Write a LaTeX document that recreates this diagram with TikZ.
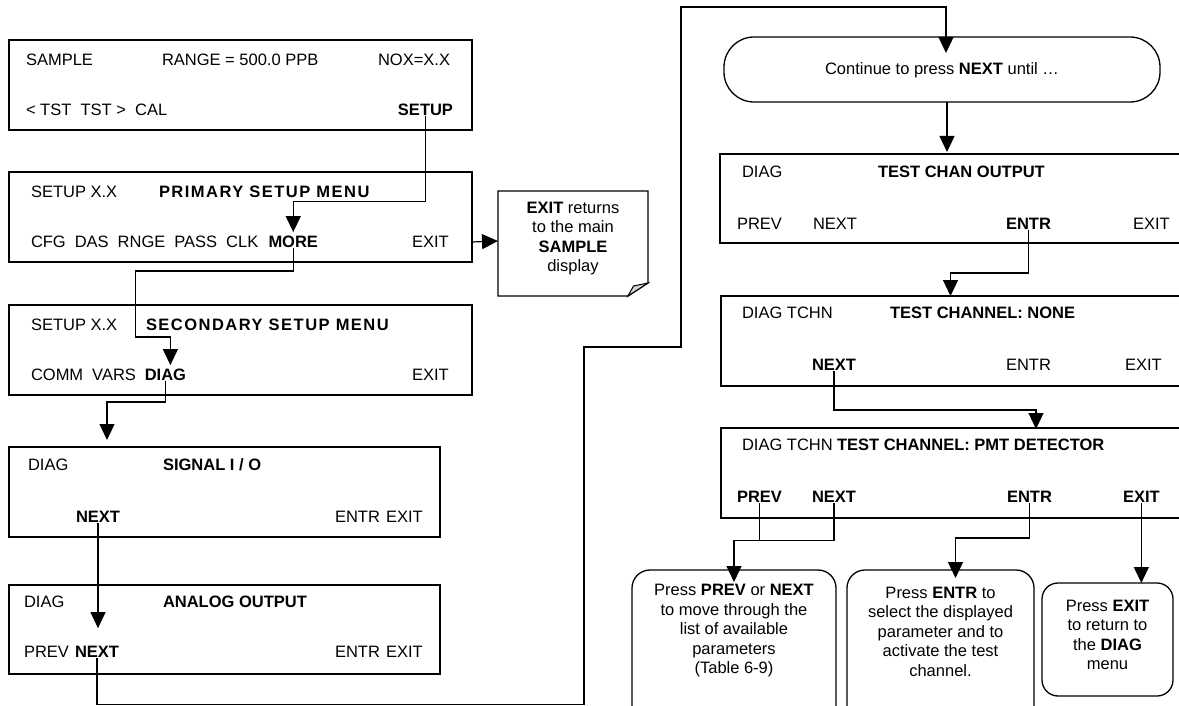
\documentclass[tikz,border=0pt]{standalone}
\usepackage{fontspec}
\setmainfont{Liberation Sans}
\newfontfamily\spacedfont[LetterSpace=9]{Liberation Sans}
\usetikzlibrary{arrows.meta}
\newcommand\dfont{\fontsize{16.5}{19.5}\selectfont}
\newcommand\wgap{\hspace{9pt}}
\begin{document}
\begin{tikzpicture}[x=1pt,y=-1pt,
  every node/.style={inner sep=0pt,outer sep=0pt},
  scr/.style={draw,line width=1.4pt,rectangle},
  pill/.style={draw,line width=1.3pt,rounded corners=30pt},
  rbox/.style={draw,line width=1.3pt,rounded corners=18pt},
  lab/.style={anchor=west,text height=11.8pt,text depth=0pt,font=\dfont},
  labb/.style={lab,font=\dfont\bfseries},
  labs/.style={lab,font=\dfont\spacedfont\bfseries},
  para/.style={align=center,font=\dfont},
  conn/.style={line width=1.2pt},
  arr/.style={conn,-{Triangle[width=15pt,length=16pt]}},
]
\useasboundingbox (0,0) rectangle (1179,706);
\clip (0,0) rectangle (1179,706);

% ---------- left column screens ----------
\node[scr,minimum width=463pt,minimum height=90pt] (b1) at (240.5,85) {};
\node[lab] (s1a) at (26,60) {SAMPLE};
\node[lab] (s1b) at (162,60) {RANGE = 500.0 PPB};
\node[lab,anchor=east] (s1c) at (450,60) {NOX=X.X};
\node[lab] (s1d) at (26,110) {< TST\ \ TST >\ \ CAL};
\node[labb,anchor=east] (setup) at (453,110) {SETUP};

\node[scr,minimum width=463pt,minimum height=90pt] (b2) at (240.5,217) {};
\node[lab] (s2a) at (31,192) {SETUP X.X};
\node[labs] (s2b) at (159,192) {PRIMARY SETUP MENU};
\node[lab] (s2c) at (31,242) {CFG\wgap DAS\wgap RNGE\wgap PASS\wgap CLK};
\node[labb,anchor=east] (more) at (318,242) {MORE};
\node[lab] (exit2) at (412,242) {EXIT};

\node[scr,minimum width=463pt,minimum height=90pt] (b3) at (240.5,350) {};
\node[lab] (s3a) at (31,325) {SETUP X.X};
\node[labs] (s3b) at (146,325) {SECONDARY SETUP MENU};
\node[lab] (s3c) at (31,375) {COMM\wgap VARS};
\node[labb,anchor=east] (diag3) at (186,375) {DIAG};
\node[lab] (exit3) at (412,375) {EXIT};

\node[scr,minimum width=431pt,minimum height=90pt] (b4) at (224.5,492) {};
\node[lab] (s4a) at (28,465) {DIAG};
\node[labb] (s4b) at (163,465) {SIGNAL I / O};
\node[labb] (next4) at (76,517) {NEXT};
\node[lab] (entr4) at (335,517) {ENTR};
\node[lab] (exit4) at (386,517) {EXIT};

\node[scr,minimum width=431pt,minimum height=89pt] (b5) at (224.5,629.5) {};
\node[lab] (s5a) at (24,602) {DIAG};
\node[labb] (s5b) at (163,602) {ANALOG OUTPUT};
\node[lab] (prev5) at (24,652) {PREV};
\node[labb] (next5) at (75,652) {NEXT};
\node[lab] (entr5) at (335,652) {ENTR};
\node[lab] (exit5) at (386,652) {EXIT};

% ---------- note ----------
\node[para] (note) at (573,238.5) {\textbf{EXIT} returns\\to the main\\\textbf{SAMPLE}\\display};
\coordinate (nA) at (498,191);
\coordinate (nB) at (648,191);
\coordinate (nC) at (648,283);
\coordinate (nD) at (628,296);
\coordinate (nE) at (498,296);
\coordinate (nF) at (633.5,286);
\draw[line width=1.3pt] (nA) -- (nB) -- (nC) -- (nD) -- (nE) -- cycle;
\filldraw[fill=gray!35,line width=1pt] (nC) -- (nD) -- (nF) -- cycle;
\coordinate (noteL) at (498,241);

% ---------- right column ----------
\node[pill,minimum width=436pt,minimum height=65pt] (cont) at (942,69.5) {};
\node[font=\dfont] (contt) at (942,70) {Continue to press \textbf{NEXT} until \dots};

\node[scr,minimum width=470pt,minimum height=89pt] (bA) at (955,198.5) {};
\node[lab] (sAa) at (742,172) {DIAG};
\node[labb] (sAb) at (878,172) {TEST CHAN OUTPUT};
\node[lab] (prevA) at (737,224) {PREV};
\node[lab] (nextA) at (813,224) {NEXT};
\node[labb] (entrA) at (1006,224) {ENTR};
\node[lab] (exitA) at (1133,224) {EXIT};

\node[scr,minimum width=469pt,minimum height=90pt] (bB) at (955.5,341) {};
\node[lab] (sBa) at (742,313) {DIAG TCHN};
\node[labb] (sBb) at (890,313) {TEST CHANNEL: NONE};
\node[labb] (nextB) at (812,365) {NEXT};
\node[lab] (entrB) at (1006,365) {ENTR};
\node[lab] (exitB) at (1125,365) {EXIT};

\node[scr,minimum width=469pt,minimum height=90pt] (bC) at (955.5,473) {};
\node[lab] (sCa) at (742,445) {DIAG TCHN};
\node[labb] (sCb) at (837,445) {TEST CHANNEL: PMT DETECTOR};
\node[labb] (prevC) at (737,497) {PREV};
\node[labb] (nextC) at (812,497) {NEXT};
\node[labb] (entrC) at (1007,497) {ENTR};
\node[labb] (exitC) at (1123,497) {EXIT};

% ---------- bottom callouts ----------
\node[rbox,minimum width=204pt,minimum height=160pt] (p1) at (734,650) {};
\node[para] (p1t) at (734,631) {Press \textbf{PREV} or \textbf{NEXT}\\to move through the\\list of available\\parameters\\(Table 6-9)};
\node[rbox,minimum width=187pt,minimum height=160pt] (p2) at (940.5,650) {};
\node[para] (p2t) at (940.5,631.5) {Press \textbf{ENTR} to\\select the displayed\\parameter and to\\activate the test\\channel.};
\node[rbox,rounded corners=16pt,minimum width=131pt,minimum height=113pt] (p3) at (1107.5,639.5) {};
\node[para] (p3t) at (1107.5,635) {Press \textbf{EXIT}\\to return to\\the \textbf{DIAG}\\menu};

% ---------- connectors ----------
\draw[arr] (setup.south) -- ++(0,86) -| ([yshift=4pt]more.north);
\draw[arr] (more.south) -- ++(0,23) -- ++(-158,0) -- ++(0,66) -| ([xshift=5pt,yshift=4pt]diag3.north);
\coordinate (t4) at (107,440);
\draw[arr] (diag3.south) -- ++(0,21) -| (t4);
\draw[arr] (next4.south) -- ([yshift=18pt]next4.south |- next5.north);
\draw[arr] (b2.east |- exit2) -- (noteL);

\coordinate (w1) at (584,704.5);
\coordinate (w2) at (681,347);
\coordinate (w3) at (681,7);
\draw[arr] (next5.south) |- (w1) |- (w2) -- (w3) -| ([xshift=4pt,yshift=-16pt]cont.north);
\draw[arr] ([xshift=5pt]cont.south) -- ++(0,50);
\draw[arr] (entrA.south) -- ++(0,43) -| ([xshift=-5pt]bB.north);
\coordinate (tC) at (1036,429);
\draw[arr] (nextB.south) -- ++(0,39) -| (tC);
\draw[conn] (prevC.south) -- ++(0,37.25);
\draw[arr] (nextC.south) -- ++(0,37.25) -| ([yshift=-12pt]p1.north);
\draw[arr] (entrC.south) -- ++(0,35) -| ([xshift=15pt,yshift=-8pt]p2.north);
\draw[arr] (exitC.south) -- (exitC.south |- p3.north);
\end{tikzpicture}
\end{document}
